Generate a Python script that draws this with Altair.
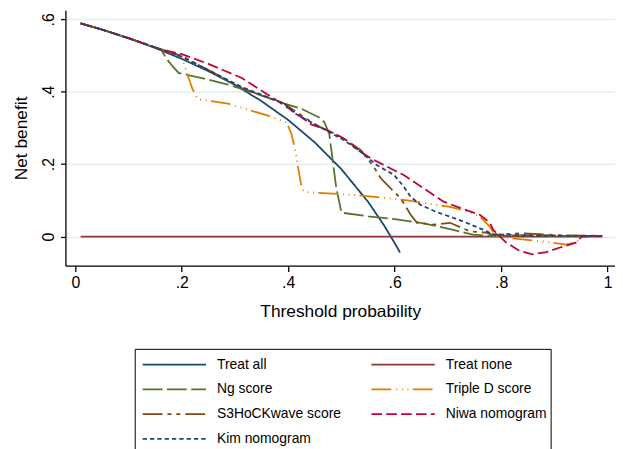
import altair as alt
import pandas as pd

names = ["Treat all", "Treat none", "Ng score", "Triple D score",
         "S3HoCKwave score", "Niwa nomogram", "Kim nomogram"]
colors = ["#1a476f", "#90353b", "#55752f", "#e37e00", "#7f4a12", "#c10534", "#1f4677"]
dashes = [[1, 0], [1, 0], [20, 4.5], [20, 5, 1, 4.7, 1, 4.7, 1, 4.3],
          [20, 5, 4, 5, 4, 5], [10.7, 4.3], [4.3, 3.1]]
# legend is filled column by column: left column first, then right column
legend_order = [0, 2, 4, 6, 1, 3, 5]

treat_all_pt = [0.01, 0.05, 0.10, 0.15, 0.20, 0.25, 0.30, 0.35, 0.40, 0.45, 0.50, 0.55, 0.58, 0.60, 0.61]
treat_all_nb = [0.589, 0.572, 0.548, 0.521, 0.491, 0.457, 0.419, 0.374, 0.322, 0.260, 0.186, 0.096, 0.031, -0.018, -0.044]

treat_none_pt = [0.01, 0.99]
treat_none_nb = [0.0, 0.0]

ng_pt = [0.01, 0.05, 0.10, 0.161, 0.172, 0.183, 0.194, 0.24, 0.287, 0.33, 0.393, 0.425, 0.462, 0.468,
         0.477, 0.49, 0.50, 0.55, 0.60, 0.649, 0.70, 0.747, 0.785, 0.85, 0.92, 0.99]
ng_nb = [0.589, 0.572, 0.548, 0.517, 0.49, 0.47, 0.452, 0.437, 0.42, 0.40, 0.367, 0.353, 0.326, 0.315,
         0.285, 0.137, 0.066, 0.056, 0.048, 0.038, 0.022, 0.005, 0.002, 0.004, 0.002, 0.002]

triple_pt = [0.01, 0.05, 0.10, 0.161, 0.20, 0.21, 0.22, 0.23, 0.287, 0.362, 0.397, 0.406, 0.412, 0.425,
             0.43, 0.443, 0.524, 0.617, 0.66, 0.704, 0.74, 0.76, 0.779, 0.79, 0.84, 0.88, 0.92, 0.94,
             0.952, 0.96]
triple_nb = [0.589, 0.572, 0.548, 0.517, 0.497, 0.45, 0.408, 0.38, 0.367, 0.334, 0.315, 0.284, 0.247,
             0.137, 0.123, 0.122, 0.115, 0.101, 0.092, 0.082, 0.068, 0.055, 0.027, 0.0, -0.008, -0.014,
             -0.022, -0.017, 0.0, 0.001]

s3_pt = [0.01, 0.05, 0.10, 0.161, 0.20, 0.25, 0.313, 0.393, 0.4125, 0.45, 0.487, 0.505, 0.537, 0.561,
         0.574, 0.592, 0.605, 0.617, 0.63, 0.642, 0.673, 0.704, 0.742, 0.772, 0.785, 0.84, 0.92, 0.99]
s3_nb = [0.589, 0.572, 0.548, 0.517, 0.499, 0.46, 0.41, 0.367, 0.347, 0.31, 0.284, 0.27, 0.238, 0.192,
         0.161, 0.134, 0.115, 0.093, 0.06, 0.038, 0.033, 0.038, 0.014, 0.011, 0.005, 0.009, 0.003, 0.002]

niwa_pt = [0.01, 0.05, 0.10, 0.161, 0.20, 0.25, 0.313, 0.37, 0.4125, 0.443, 0.475, 0.505, 0.537, 0.555,
           0.599, 0.617, 0.66, 0.691, 0.723, 0.76, 0.779, 0.785, 0.809, 0.835, 0.859, 0.885, 0.909,
           0.94, 0.952, 0.99]
niwa_nb = [0.589, 0.572, 0.548, 0.517, 0.504, 0.477, 0.438, 0.384, 0.343, 0.31, 0.293, 0.271, 0.233,
           0.216, 0.183, 0.17, 0.128, 0.097, 0.079, 0.06, 0.038, 0.019, -0.016, -0.04, -0.049, -0.043,
           -0.031, -0.017, 0.0, 0.002]

kim_pt = [0.01, 0.05, 0.10, 0.161, 0.20, 0.25, 0.313, 0.393, 0.4125, 0.45, 0.505, 0.537, 0.567, 0.599,
          0.617, 0.63, 0.648, 0.678, 0.71, 0.735, 0.766, 0.785, 0.85, 0.92, 0.99]
kim_nb = [0.589, 0.572, 0.548, 0.517, 0.497, 0.46, 0.413, 0.367, 0.34, 0.31, 0.266, 0.233, 0.197, 0.17,
          0.138, 0.11, 0.088, 0.068, 0.052, 0.038, 0.019, 0.006, 0.003, 0.002, 0.002]

series = [
    (names[0], treat_all_pt, treat_all_nb),
    (names[1], treat_none_pt, treat_none_nb),
    (names[2], ng_pt, ng_nb),
    (names[3], triple_pt, triple_nb),
    (names[4], s3_pt, s3_nb),
    (names[5], niwa_pt, niwa_nb),
    (names[6], kim_pt, kim_nb),
]

rows = []
for order, (name, xs, ys) in enumerate(series):
    for x, y in zip(xs, ys):
        rows.append({"model": name, "pt": x, "nb": y, "ord": order})
df = pd.DataFrame(rows)

dom = [names[i] for i in legend_order]
col_range = [colors[i] for i in legend_order]
dash_range = [dashes[i] for i in legend_order]

FONT = "Liberation Sans"

legend = alt.Legend(
    title=None,
    orient="none",
    legendX=70,
    legendY=342,
    columns=2,
    symbolType="stroke",
    symbolSize=4096,
    symbolStrokeWidth=1.8,
    clipHeight=24,
    rowPadding=1,
    columnPadding=26,
    labelFont=FONT,
    labelFontSize=14,
    labelColor="black",
    labelOffset=10,
    symbolOffset=3,
    padding=4,
    strokeColor="black",
    labelLimit=300,
)

x_label = "datum.value == 0 ? '0' : datum.value == 1 ? '1' : replace(format(datum.value, '.1f'), '0.', '.')"
y_label = "datum.value == 0 ? '0' : replace(format(datum.value, '.1f'), '0.', '.')"

chart = alt.Chart(df).mark_line(strokeWidth=1.8, clip=True).encode(
    x=alt.X("pt:Q",
            scale=alt.Scale(domain=[-0.0186, 1.014], nice=False, zero=False),
            axis=alt.Axis(values=[0, 0.2, 0.4, 0.6, 0.8, 1.0], labelExpr=x_label,
                          title="Threshold probability", grid=False,
                          tickSize=6, labelPadding=3, titlePadding=12,
                          labelFontSize=16, titleFontSize=17.5)),
    y=alt.Y("nb:Q",
            scale=alt.Scale(domain=[-0.0805, 0.6254], nice=False, zero=False),
            axis=alt.Axis(values=[0, 0.2, 0.4, 0.6], labelExpr=y_label,
                          title="Net benefit", grid=True,
                          gridColor="#e6edf1", gridWidth=1.5,
                          labelAngle=-90, labelAlign="center", labelBaseline="bottom",
                          tickSize=5, labelPadding=4, titlePadding=10,
                          labelFontSize=16, titleFontSize=17.5)),
    color=alt.Color("model:N", scale=alt.Scale(domain=dom, range=col_range), legend=legend),
    strokeDash=alt.StrokeDash("model:N", scale=alt.Scale(domain=dom, range=dash_range), legend=legend),
    order=alt.Order("ord:Q"),
).properties(
    width=555,
    height=258,
    padding={"left": 5, "top": 0, "right": 0, "bottom": 0},
).configure(
    font=FONT,
    background="white",
).configure_view(
    stroke=None,
).configure_axis(
    domainColor="black",
    domainWidth=1.3,
    tickColor="black",
    tickWidth=1.3,
    labelColor="black",
    titleColor="black",
    titleFontWeight="normal",
    labelFont=FONT,
    titleFont=FONT,
)

chart.save("out.html", embed_options={"renderer": "svg", "actions": False})
